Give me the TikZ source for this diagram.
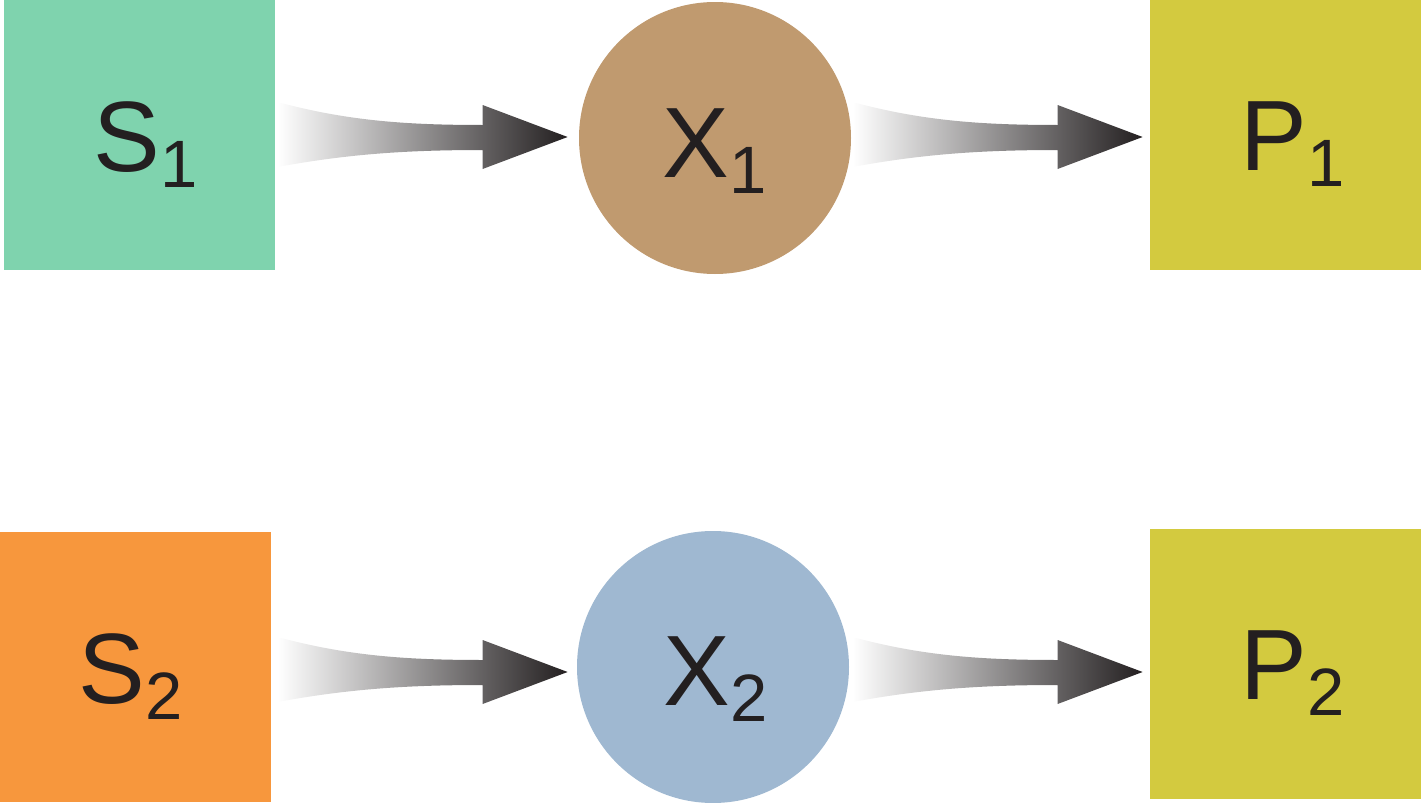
\documentclass[tikz,border=0pt]{standalone}
\usepackage{fontspec}
\setmainfont{Liberation Sans}
\usetikzlibrary{calc}
\definecolor{sgreen}{HTML}{7FD3AE}
\definecolor{xbrown}{HTML}{C09A6F}
\definecolor{pyellow}{HTML}{D3CA3F}
\definecolor{sorange}{HTML}{F7973D}
\definecolor{xblue}{HTML}{9FB8D1}
\definecolor{inkdark}{HTML}{231F20}
\definecolor{arrowmid}{HTML}{A5A5A5}
\newcommand\mylab[2]{\fontsize{50}{50}\selectfont #1\raisebox{-8pt}{\fontsize{33.5}{33.5}\selectfont #2}}
\tikzset{
  boxnode/.style={rectangle, inner sep=0pt, minimum width=135.5pt, minimum height=135pt, draw=none},
  circnode/.style={circle, inner sep=0pt, minimum size=136pt, draw=none},
  labnode/.style={anchor=base west, inner sep=0pt, text=inkdark},
  pics/gradarrow/.style={code={
    \shade[left color=white, middle color=arrowmid, right color=inkdark]
      (-290,-35) .. controls (-220,-16) and (-160,-12) .. (-85,-12)
      -- (-85,-32) -- (0,0) -- (-85,32) -- (-85,13)
      .. controls (-160,13) and (-220,17) .. (-290,30) -- cycle;
  }}
}
\begin{document}
\begin{tikzpicture}[x=0.5pt, y=-0.5pt]
\useasboundingbox (0,0) rectangle (1421,803);
% shapes
\node[boxnode, fill=sgreen] (s1) at (139.5,135) {};
\node[circnode, fill=xbrown] (x1) at (715,138) {};
\node[boxnode, fill=pyellow] (p1) at (1285.5,135) {};
\node[boxnode, fill=sorange] (s2) at (135.5,667) {};
\node[circnode, fill=xblue] (x2) at (713,667) {};
\node[boxnode, fill=pyellow] (p2) at (1285.5,663.5) {};
% labels
\node[labnode] (ls1) at (93,171) {\mylab{S}{1}};
\node[labnode] (lx1) at (662,177) {\mylab{X}{1}};
\node[labnode] (lp1) at (1240,170) {\mylab{P}{1}};
\node[labnode] (ls2) at (78,703) {\mylab{S}{2}};
\node[labnode] (lx2) at (663,705) {\mylab{X}{2}};
\node[labnode] (lp2) at (1240,699) {\mylab{P}{2}};
% arrows (tips placed relative to target nodes)
\coordinate (t1) at ($(x1.west)+(-11,-1)$);
\coordinate (t2) at ($(p1.west)+(-7,2)$);
\coordinate (t3) at ($(x2.west)+(-9,5)$);
\coordinate (t4) at ($(p2.west)+(-7,8.5)$);
\pic at (t1) {gradarrow};
\pic at (t2) {gradarrow};
\pic at (t3) {gradarrow};
\pic at (t4) {gradarrow};
\end{tikzpicture}
\end{document}
